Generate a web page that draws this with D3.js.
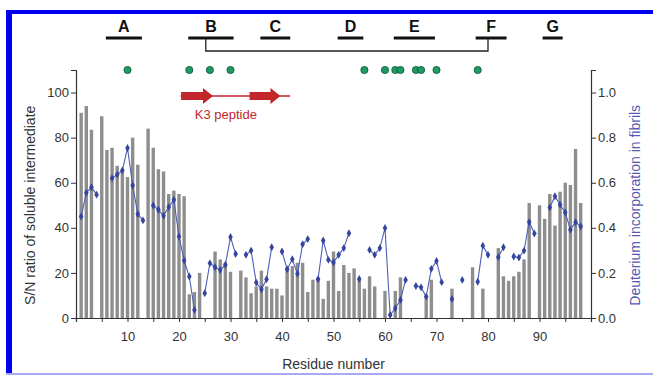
<!DOCTYPE html>
<html>
<head>
<meta charset="utf-8">
<script src="https://cdn.jsdelivr.net/npm/d3@7"></script>
<style>
  body { margin: 0; background: #fff; }
  svg { display: block; font-family: "Liberation Sans", Arial, sans-serif; }
</style>
</head>
<body>
<div id="chart"></div>
<script>
// S/N ratio of soluble intermediate per residue (null = not measured)
const snRatio = [
  91, 94, 83.5, null, 89.5, 74.5, 75.5, 67.5, 65, 62.5,
  80, 68, null, 84, 75.5, 66, 65, 55, 56.5, 55,
  54, 10.5, 11.5, 20, null, null, 29.5, 26, 24.5, 20.5,
  null, 21, 18, 11, 14, 21, 14, 13, 13, 10,
  22.5, 23, 24.5, 24.5, 11.5, 17, 18, 8.5, 16.5, 29.5,
  12, 23.5, 20, 22, 17.5, 13, 18.5, 14, null, 12,
  null, 12, 18, null, null, null, null, 10, 17, null,
  null, null, 13, null, null, null, 22.5, null, 13, null,
  null, 31, 18.5, 16.5, 18.5, 20.5, 26, 51, null, 50,
  44, 55, 41, 56, 60, 59, 75, 51
];
// deuterium incorporation in fibrils per residue
const deuterium = [
  0.45, 0.555, 0.58, 0.547, null, null, 0.62, 0.636, 0.655, 0.754,
  0.588, 0.461, 0.433, null, 0.499, 0.48, 0.453, 0.492, 0.524, 0.361,
  0.255, 0.184, 0.036, null, 0.11, 0.243, 0.225, 0.213, 0.236, 0.359,
  0.284, null, 0.28, 0.299, 0.157, 0.127, 0.172, 0.314, null, 0.295,
  0.216, 0.261, 0.196, 0.327, 0.35, null, 0.172, 0.344, 0.258, 0.246,
  0.28, 0.31, 0.376, null, 0.173, null, 0.302, 0.28, 0.31, 0.399,
  0.013, 0.043, 0.08, 0.169, null, 0.142, 0.136, 0.095, 0.218, 0.253,
  0.159, null, 0.084, null, 0.169, null, null, 0.161, 0.321, 0.28,
  null, 0.27, 0.314, null, 0.273, 0.268, 0.299, 0.426, 0.375, null,
  null, 0.49, 0.54, 0.502, 0.468, 0.391, 0.425, 0.406
];
const residues = snRatio.map((d, i) => i + 1);

// residues marked with green dots
const greenDots = [10, 22, 26, 30, 56, 60, 62, 63, 66, 67, 70, 78];

// beta strands (residue span)
const strandLabels = ['A', 'B', 'C', 'D', 'E', 'F', 'G'];
const strandStart = [5.8, 21.8, 35.8, 50.8, 61.7, 77.6, 90.6];
const strandEnd = [12.8, 30.6, 41.6, 55.8, 69.7, 83.6, 94.5];
const disulfide = [25.2, 80];

// K3 peptide
const k3Span = [20.3, 41.6];
const k3Arrows = [[20.4, 26.6], [33.7, 39.7]];

const leftTicks = [0, 20, 40, 60, 80, 100];
const rightTicks = [0, 0.2, 0.4, 0.6, 0.8, 1.0];
const xTickLabels = [10, 20, 30, 40, 50, 60, 70, 80, 90];

const width = 653, height = 377;
const svg = d3.select('#chart').append('svg')
  .attr('width', width).attr('height', height);

// frame
svg.append('rect').attr('x', 6).attr('y', 10).attr('width', width - 6).attr('height', 4).attr('fill', '#0000f0');
svg.append('rect').attr('x', 6).attr('y', 10).attr('width', 6).attr('height', 364).attr('fill', '#0000f0');
svg.append('rect').attr('x', 6).attr('y', 373).attr('width', width - 6).attr('height', 2).attr('fill', '#a8a8f4');

const x = d3.scaleLinear().domain([0, 100]).range([76, 591]);
const yL = d3.scaleLinear().domain([0, 110]).range([318, 70]);
const yR = d3.scaleLinear().domain([0, 1.1]).range([318, 70]);

const grey = '#333';

// bars
svg.append('g').selectAll('rect')
  .data(residues.filter((r, i) => snRatio[i] != null))
  .enter().append('rect')
  .attr('x', r => x(r) - 1.7)
  .attr('width', 3.4)
  .attr('y', r => yL(snRatio[r - 1]))
  .attr('height', r => yL(0) - yL(snRatio[r - 1]))
  .attr('fill', '#8e8e8e');

// axes
const axL = svg.append('g').attr('transform', `translate(${x(0)},0)`)
  .call(d3.axisLeft(yL).tickValues(leftTicks).tickSize(5).tickPadding(2));
const axR = svg.append('g').attr('transform', `translate(${x(100)},0)`)
  .call(d3.axisRight(yR).tickValues(rightTicks).tickSize(5).tickPadding(2).tickFormat(d3.format('.1f')));
const axB = svg.append('g').attr('transform', `translate(0,${yL(0)})`)
  .call(d3.axisBottom(x).tickValues(d3.range(5, 100, 5)).tickSize(4).tickFormat(d => xTickLabels.includes(d) ? d : ''));
axB.selectAll('text').attr('dy', '1.2em');
[axL, axR, axB].forEach(a => {
  a.select('.domain').attr('stroke', grey).attr('stroke-width', 1.2);
  a.selectAll('.tick line').attr('stroke', grey);
  a.selectAll('text').attr('fill', grey).style('font-size', '13px');
});

// deuterium line
const line = d3.line()
  .defined((d, i) => deuterium[i] != null)
  .x((d, i) => x(residues[i]))
  .y((d, i) => yR(deuterium[i]));
svg.append('path').datum(deuterium)
  .attr('d', line)
  .attr('fill', 'none')
  .attr('stroke', '#4e5fb8')
  .attr('stroke-width', 1.1);
svg.append('g').selectAll('path')
  .data(residues.filter((r, i) => deuterium[i] != null))
  .enter().append('path')
  .attr('d', d3.symbol().type(d3.symbolDiamond).size(18))
  .attr('transform', r => `translate(${x(r)},${yR(deuterium[r - 1])})`)
  .attr('fill', '#34449f');

// green dots
svg.append('g').selectAll('circle')
  .data(greenDots).enter().append('circle')
  .attr('cx', r => x(r)).attr('cy', 70).attr('r', 3.6)
  .attr('fill', '#1c9b62').attr('stroke', '#0d5233').attr('stroke-width', 0.8);

// strands
const st = svg.append('g');
strandLabels.forEach((lab, i) => {
  st.append('line')
    .attr('x1', x(strandStart[i])).attr('x2', x(strandEnd[i]))
    .attr('y1', 38).attr('y2', 38)
    .attr('stroke', '#111').attr('stroke-width', 3);
  st.append('text')
    .attr('x', (x(strandStart[i]) + x(strandEnd[i])) / 2).attr('y', 32)
    .attr('text-anchor', 'middle')
    .style('font-size', '16px').style('font-weight', 'bold').attr('fill', '#111')
    .text(lab);
});
st.append('path')
  .attr('d', `M${x(disulfide[0])},38 V51 H${x(disulfide[1])} V38`)
  .attr('fill', 'none').attr('stroke', '#222').attr('stroke-width', 1.3);

// K3 peptide
const red = '#c3262c';
svg.append('line')
  .attr('x1', x(k3Span[0])).attr('x2', x(k3Span[1]))
  .attr('y1', 96).attr('y2', 96)
  .attr('stroke', red).attr('stroke-width', 1.5);
k3Arrows.forEach(([a, b]) => {
  const x0 = x(a), x1 = x(b), xh = x1 - 10;
  svg.append('path')
    .attr('d', `M${x0},92 H${xh} V88 L${x1},96 L${xh},104 V100 H${x0} Z`)
    .attr('fill', red);
});
svg.append('text')
  .attr('x', x(29.1)).attr('y', 119).attr('text-anchor', 'middle')
  .style('font-size', '13px').attr('fill', red)
  .text('K3 peptide');

// axis titles
svg.append('text')
  .attr('transform', `translate(35,${yL(50)}) rotate(-90)`)
  .attr('text-anchor', 'middle')
  .style('font-size', '14px').attr('fill', grey)
  .text('S/N ratio of soluble intermediate');
svg.append('text')
  .attr('transform', `translate(640,${yL(50)}) rotate(-90)`)
  .attr('text-anchor', 'middle')
  .style('font-size', '14px').attr('fill', '#5558b0')
  .text('Deuterium incorporation in fibrils');
svg.append('text')
  .attr('x', x(50)).attr('y', 369)
  .attr('text-anchor', 'middle')
  .style('font-size', '14px').attr('fill', grey)
  .text('Residue number');
</script>
</body>
</html>
